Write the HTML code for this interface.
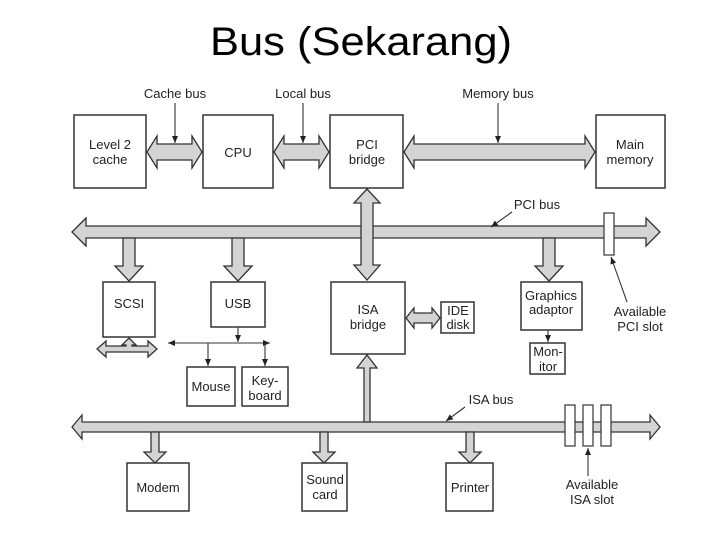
<!DOCTYPE html>
<html><head><meta charset="utf-8"><style>
html,body{margin:0;padding:0;background:#fff;}
svg{display:block;}
text{font-family:"Liberation Sans",sans-serif;fill:#222;}
</style></head><body>
<svg width="720" height="540" viewBox="0 0 720 540" xmlns="http://www.w3.org/2000/svg">
<defs>
<marker id="ah" markerWidth="8" markerHeight="8" refX="7" refY="4" orient="auto" markerUnits="userSpaceOnUse"><path d="M0,1 L7,4 L0,7 z" fill="#222"/></marker>
</defs>
<text x="361" y="55" text-anchor="middle" font-size="40" textLength="302" lengthAdjust="spacingAndGlyphs" style="fill:#000">Bus (Sekarang)</text>

<g fill="#d4d4d4" stroke="#333" stroke-width="1.3" stroke-linejoin="miter">
<polygon points="147,152 157,136 157,144 192,144 192,136 202,152 192,168 192,160 157,160 157,168"/>
<polygon points="274,152 284,136 284,144 319,144 319,136 329,152 319,168 319,160 284,160 284,168"/>
<polygon points="404,152 414,136 414,144 585,144 585,136 595,152 585,168 585,160 414,160 414,168"/>
<polygon points="72,232 86,218 86,226 646,226 646,218 660,232 646,246 646,238 86,238 86,246"/>
<polygon points="367,189 380,203 373,203 373,265 380,265 367,280 354,265 361,265 361,203 354,203"/>
<polygon points="123,238 135,238 135,266 143,266 129,281 115,266 123,266"/>
<polygon points="232,238 244,238 244,266 252,266 238,281 224,266 232,266"/>
<polygon points="543,238 555,238 555,266 563,266 549,281 535,266 543,266"/>
<polygon points="72,427 82,415 82,422 650,422 650,415 660,427 650,439 650,432 82,432 82,439"/>
<polygon points="364,422 364,368 357,368 367,355 377,368 370,368 370,422"/>
<polygon points="151,432 159,432 159,452 166,452 155,463 144,452 151,452"/>
<polygon points="320,432 328,432 328,452 335,452 324,463 313,452 320,452"/>
<polygon points="466,432 474,432 474,452 481,452 470,463 459,452 466,452"/>
<polygon points="406,318 414,308 414,313 432,313 432,308 440,318 432,328 432,323 414,323 414,328"/>
<polygon points="129,338 136,345 132,345 132,346 148,346 148,341 157,349 148,357 148,352 106,352 106,357 97,349 106,341 106,346 126,346 126,345 122,345"/>
</g>

<g fill="#fff" stroke="#333" stroke-width="1.5">
<rect x="74" y="115" width="72" height="73"/>
<rect x="203" y="115" width="70" height="73"/>
<rect x="330" y="115" width="73" height="73"/>
<rect x="596" y="115" width="69" height="73"/>
<rect x="103" y="282" width="52" height="55"/>
<rect x="211" y="282" width="54" height="45"/>
<rect x="331" y="282" width="74" height="72"/>
<rect x="441" y="302" width="33" height="31"/>
<rect x="521" y="282" width="61" height="48"/>
<rect x="530" y="343" width="35" height="31"/>
<rect x="187" y="367" width="48" height="39"/>
<rect x="242" y="367" width="46" height="39"/>
<rect x="127" y="463" width="62" height="48"/>
<rect x="302" y="463" width="45" height="48"/>
<rect x="446" y="463" width="47" height="48"/>
<rect x="604" y="213" width="10" height="42" stroke-width="1.2"/>
<rect x="565" y="405" width="10" height="41" stroke-width="1.2"/>
<rect x="583" y="405" width="10" height="41" stroke-width="1.2"/>
<rect x="601" y="405" width="10" height="41" stroke-width="1.2"/>
</g>

<g stroke="#333" stroke-width="1.1" fill="none">
<line x1="175" y1="103" x2="175" y2="143" marker-end="url(#ah)"/>
<line x1="303" y1="103" x2="303" y2="143" marker-end="url(#ah)"/>
<line x1="498" y1="103" x2="498" y2="143" marker-end="url(#ah)"/>
<line x1="512" y1="212" x2="491" y2="227" marker-end="url(#ah)"/>
<line x1="465" y1="407" x2="446" y2="421" marker-end="url(#ah)"/>
<line x1="627" y1="302" x2="611" y2="257" marker-end="url(#ah)"/>
<line x1="588" y1="476" x2="588" y2="448" marker-end="url(#ah)"/>
<line x1="238" y1="327" x2="238" y2="342" marker-end="url(#ah)"/>
<line x1="218" y1="343" x2="168" y2="343" marker-end="url(#ah)"/>
<line x1="218" y1="343" x2="270" y2="343" marker-end="url(#ah)"/>
<line x1="208" y1="343" x2="208" y2="366" marker-end="url(#ah)"/>
<line x1="265" y1="343" x2="265" y2="366" marker-end="url(#ah)"/>
<line x1="548" y1="330" x2="548" y2="342" marker-end="url(#ah)"/>
</g>

<g font-size="13" text-anchor="middle">
<text x="175" y="98">Cache bus</text>
<text x="303" y="98">Local bus</text>
<text x="498" y="98">Memory bus</text>
<text x="110" y="149">Level 2</text><text x="110" y="164">cache</text>
<text x="238" y="157">CPU</text>
<text x="367" y="149">PCI</text><text x="367" y="164">bridge</text>
<text x="630" y="149">Main</text><text x="630" y="164">memory</text>
<text x="537" y="209">PCI bus</text>
<text x="129" y="308">SCSI</text>
<text x="238" y="308">USB</text>
<text x="368" y="314">ISA</text><text x="368" y="329">bridge</text>
<text x="458" y="315">IDE</text><text x="458" y="329">disk</text>
<text x="551" y="300">Graphics</text><text x="551" y="314">adaptor</text>
<text x="548" y="356">Mon-</text><text x="548" y="371">itor</text>
<text x="640" y="316">Available</text><text x="640" y="331">PCI slot</text>
<text x="211" y="391">Mouse</text>
<text x="265" y="385">Key-</text><text x="265" y="400">board</text>
<text x="491" y="404">ISA bus</text>
<text x="158" y="492">Modem</text>
<text x="325" y="484">Sound</text><text x="325" y="499">card</text>
<text x="470" y="492">Printer</text>
<text x="592" y="489">Available</text><text x="592" y="504">ISA slot</text>
</g>
</svg>
</body></html>
